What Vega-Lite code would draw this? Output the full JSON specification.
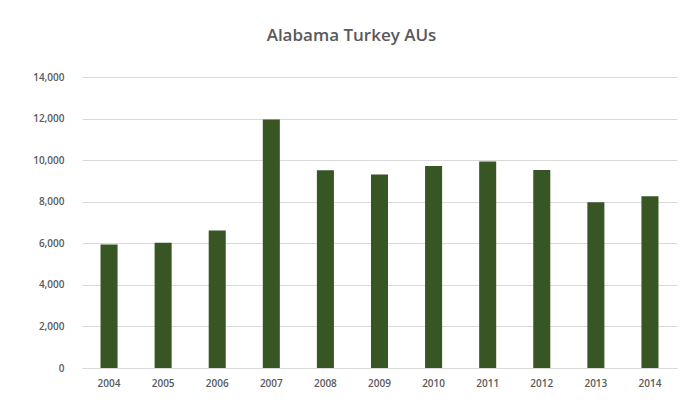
{
  "$schema": "https://vega.github.io/schema/vega-lite/v6.json",
  "width": 595,
  "height": 291,
  "autosize": {"type": "none"},
  "padding": {"left": 82, "top": 77, "right": 13, "bottom": 40},
  "background": "white",
  "title": {
    "text": "Alabama Turkey AUs",
    "font": "Open Sans",
    "fontSize": 17,
    "fontWeight": 600,
    "color": "#595959",
    "anchor": "middle",
    "dx": -28,
    "offset": 27
  },
  "data": {
    "values": [
      {"year": "2004", "value": 5940},
      {"year": "2005", "value": 6020},
      {"year": "2006", "value": 6610},
      {"year": "2007", "value": 11950},
      {"year": "2008", "value": 9510},
      {"year": "2009", "value": 9310},
      {"year": "2010", "value": 9720},
      {"year": "2011", "value": 9930},
      {"year": "2012", "value": 9530},
      {"year": "2013", "value": 7970},
      {"year": "2014", "value": 8260}
    ]
  },
  "mark": {"type": "bar", "color": "#375623"},
  "encoding": {
    "x": {
      "field": "year",
      "type": "ordinal",
      "scale": {"paddingInner": 0.685, "paddingOuter": 0.3425},
      "axis": {
        "title": null,
        "labelAngle": 0,
        "ticks": false,
        "domainColor": "#d9d9d9",
        "labelFont": "Open Sans",
        "labelFontSize": 10,
        "labelFontWeight": 600,
        "labelColor": "#595959",
        "labelPadding": 10
      }
    },
    "y": {
      "field": "value",
      "type": "quantitative",
      "scale": {"domain": [0, 14000]},
      "axis": {
        "title": null,
        "values": [0, 2000, 4000, 6000, 8000, 10000, 12000, 14000],
        "format": ",.0f",
        "domain": false,
        "ticks": false,
        "gridColor": "#d9d9d9",
        "labelFont": "Open Sans",
        "labelFontSize": 10,
        "labelFontWeight": 600,
        "labelColor": "#595959",
        "labelPadding": 18
      }
    }
  },
  "config": {"view": {"stroke": null}}
}
